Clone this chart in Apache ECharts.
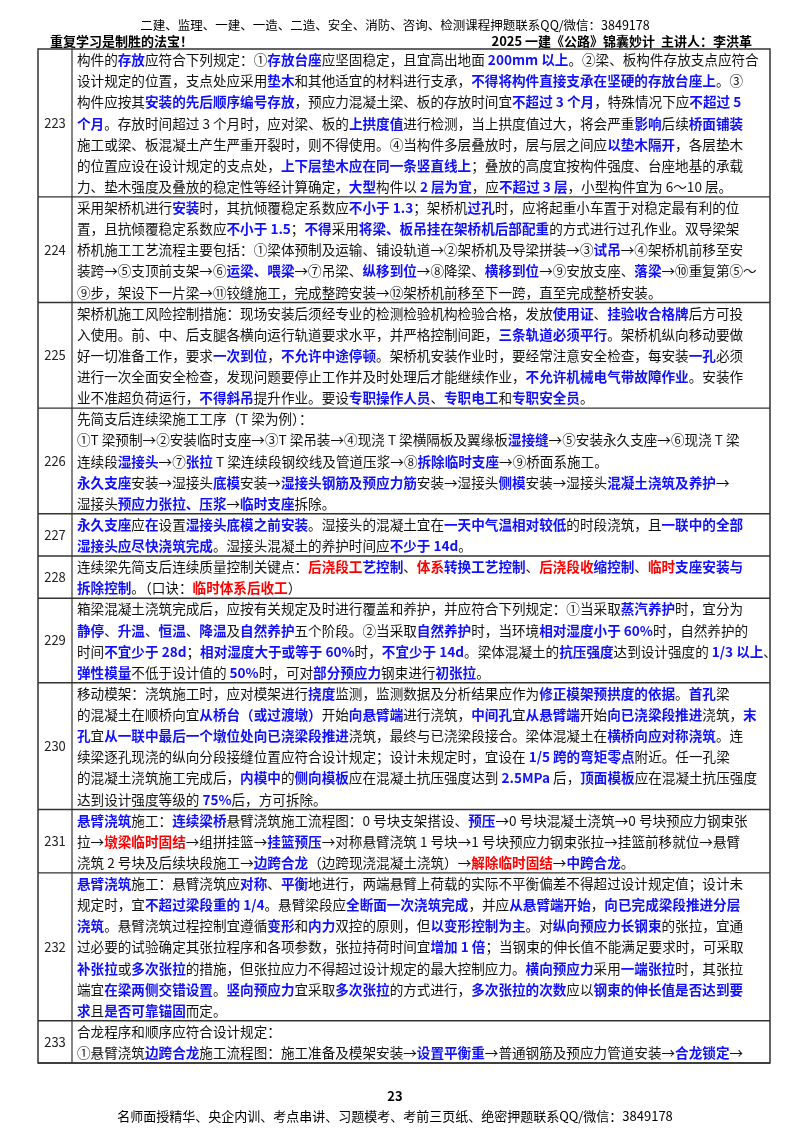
<!DOCTYPE html>
<html><head><meta charset="utf-8">
<script src="https://cdn.jsdelivr.net/npm/echarts@6/dist/echarts.min.js"></script>
<style>html,body{margin:0;padding:0;background:#fff}#c{width:800px;height:1132px}</style>
</head><body><div id="c"></div>
<script>
var headerTop = "二建、监理、一建、一造、二造、安全、消防、咨询、检测课程押题联系QQ/微信：3849178";
var headerLeft = "重复学习是制胜的法宝！";
var headerRight = "2025 一建《公路》锦囊妙计  主讲人：李洪革";
var pageNum = "23";
var footer = "名师面授精华、央企内训、考点串讲、习题模考、考前三页纸、绝密押题联系QQ/微信：3849178";
var rowNums = ["223","224","225","226","227","228","229","230","231","232","233"];
var rowLines = [
["构件的{b|存放}应符合下列规定：①{b|存放台座}应坚固稳定，且宜高出地面 {b|200mm 以上}。②梁、板构件存放支点应符合",
"设计规定的位置，支点处应采用{b|垫木}和其他适宜的材料进行支承，{b|不得将构件直接支承在坚硬的存放台座上}。③",
"构件应按其{b|安装的先后顺序编号存放}，预应力混凝土梁、板的存放时间宜{b|不超过 3 个月}，特殊情况下应{b|不超过 5}",
"{b|个月}。存放时间超过 3 个月时，应对梁、板的{b|上拱度值}进行检测，当上拱度值过大，将会严重{b|影响}后续{b|桥面铺装}",
"施工或梁、板混凝土产生严重开裂时，则不得使用。④当构件多层叠放时，层与层之间应{b|以垫木隔开}，各层垫木",
"的位置应设在设计规定的支点处，{b|上下层垫木应在同一条竖直线上}；叠放的高度宜按构件强度、台座地基的承载",
"力、垫木强度及叠放的稳定性等经计算确定，{b|大型}构件以 {b|2 层为宜}，应{b|不超过 3 层}，小型构件宜为 6～10 层。"],
["采用架桥机进行{b|安装}时，其抗倾覆稳定系数应{b|不小于 1.3}；架桥机{b|过孔}时，应将起重小车置于对稳定最有利的位",
"置，且抗倾覆稳定系数应{b|不小于 1.5}；{b|不得}采用{b|将梁、板吊挂在架桥机后部配重}的方式进行过孔作业。双导梁架",
"桥机施工工艺流程主要包括：①梁体预制及运输、铺设轨道→②架桥机及导梁拼装→③{b|试吊}→④架桥机前移至安",
"装跨→⑤支顶前支架→⑥{b|运梁、喂梁}→⑦吊梁、{b|纵移到位}→⑧降梁、{b|横移到位}→⑨安放支座、{b|落梁}→⑩重复第⑤～",
"⑨步，架设下一片梁→⑪铰缝施工，完成整跨安装→⑫架桥机前移至下一跨，直至完成整桥安装。"],
["架桥机施工风险控制措施：现场安装后须经专业的检测检验机构检验合格，发放{b|使用证}、{b|挂验收合格牌}后方可投",
"入使用。前、中、后支腿各横向运行轨道要求水平，并严格控制间距，{b|三条轨道必须平行}。架桥机纵向移动要做",
"好一切准备工作，要求{b|一次到位}，{b|不允许中途停顿}。架桥机安装作业时，要经常注意安全检查，每安装{b|一孔}必须",
"进行一次全面安全检查，发现问题要停止工作并及时处理后才能继续作业，{b|不允许机械电气带故障作业}。安装作",
"业不准超负荷运行，{b|不得斜吊}提升作业。要设{b|专职操作人员}、{b|专职电工}和{b|专职安全员}。"],
["先简支后连续梁施工工序（T 梁为例）：",
"①T 梁预制→②安装临时支座→③T 梁吊装→④现浇 T 梁横隔板及翼缘板{b|湿接缝}→⑤安装永久支座→⑥现浇 T 梁",
"连续段{b|湿接头}→⑦{b|张拉} T 梁连续段钢绞线及管道压浆→⑧{b|拆除临时支座}→⑨桥面系施工。",
"{b|永久支座}安装→湿接头{b|底模}安装→{b|湿接头钢筋及预应力筋}安装→湿接头{b|侧模}安装→湿接头{b|混凝土浇筑及养护}→",
"湿接头{b|预应力张拉、压浆}→{b|临时支座}拆除。"],
["{b|永久支座}应{b|在}设置{b|湿接头底模之前安装}。湿接头的混凝土宜在{b|一天中气温相对较低}的时段浇筑，且{b|一联中的全部}",
"{b|湿接头应尽快浇筑完成}。湿接头混凝土的养护时间应{b|不少于 14d}。"],
["连续梁先简支后连续质量控制关键点：{r|后浇段工}{b|艺控制}、{r|体系}{b|转换工艺控制}、{r|后浇段收}{b|缩控制}、{r|临时}{b|支座安装与}",
"{b|拆除控制}。（口诀：{r|临时体系后收工}）"],
["箱梁混凝土浇筑完成后，应按有关规定及时进行覆盖和养护，并应符合下列规定：①当采取{b|蒸汽养护}时，宜分为",
"{b|静停}、{b|升温}、{b|恒温}、{b|降温}及{b|自然养护}五个阶段。②当采取{b|自然养护}时，当环境{b|相对湿度小于 60%}时，自然养护的",
"时间{b|不宜少于 28d}；{b|相对湿度大于或等于 60%}时，{b|不宜少于 14d}。梁体混凝土的{b|抗压强度}达到设计强度的 {b|1/3 以上}、",
"{b|弹性模量}不低于设计值的 {b|50%}时，可对{b|部分预应力}钢束进行{b|初张拉}。"],
["移动模架：浇筑施工时，应对模架进行{b|挠度}监测，监测数据及分析结果应作为{b|修正模架预拱度的依据}。{b|首孔}梁",
"的混凝土在顺桥向宜{b|从桥台（或过渡墩）}开始{b|向悬臂端}进行浇筑，{b|中间孔}宜{b|从悬臂端}开始{b|向已浇梁段推进}浇筑，{b|末}",
"{b|孔}宜{b|从一联中最后一个墩位处向已浇梁段推进}浇筑，最终与已浇梁段接合。梁体混凝土在{b|横桥向应对称浇筑}。连",
"续梁逐孔现浇的纵向分段接缝位置应符合设计规定；设计未规定时，宜设在 {b|1/5 跨的弯矩零点}附近。任一孔梁",
"的混凝土浇筑施工完成后，{b|内模中}的{b|侧向模板}应在混凝土抗压强度达到 {b|2.5MPa} 后，{b|顶面模板}应在混凝土抗压强度",
"达到设计强度等级的 {b|75%}后，方可拆除。"],
["{b|悬臂浇筑}施工：{b|连续梁桥}悬臂浇筑施工流程图：0 号块支架搭设、{b|预压}→0 号块混凝土浇筑→0 号块预应力钢束张",
"拉→{r|墩梁临时固结}→组拼挂篮→{b|挂篮预压}→对称悬臂浇筑 1 号块→1 号块预应力钢束张拉→挂篮前移就位→悬臂",
"浇筑 2 号块及后续块段施工→{b|边跨合龙}（边跨现浇混凝土浇筑）→{r|解除临时固结}→{b|中跨合龙}。"],
["{b|悬臂浇筑}施工：悬臂浇筑应{b|对称}、{b|平衡}地进行，两端悬臂上荷载的实际不平衡偏差不得超过设计规定值；设计未",
"规定时，宜{b|不超过梁段重的 1/4}。悬臂梁段应{b|全断面一次浇筑完成}，并应{b|从悬臂端开始}，{b|向已完成梁段推进分层}",
"{b|浇筑}。悬臂浇筑过程控制宜遵循{b|变形}和{b|内力}双控的原则，但{b|以变形控制为主}。对{b|纵向预应力长钢束}的张拉，宜通",
"过必要的试验确定其张拉程序和各项参数，张拉持荷时间宜{b|增加 1 倍}；当钢束的伸长值不能满足要求时，可采取",
"{b|补张拉}或{b|多次张拉}的措施，但张拉应力不得超过设计规定的最大控制应力。{b|横向预应力}采用{b|一端张拉}时，其张拉",
"端宜{b|在梁两侧交错设置}。{b|竖向预应力}宜采取{b|多次张拉}的方式进行，{b|多次张拉的次数}应以{b|钢束的伸长值是否达到要}",
"{b|求}且{b|是否可靠锚固}而定。"],
["合龙程序和顺序应符合设计规定：",
"①悬臂浇筑{b|边跨合龙}施工流程图：施工准备及模架安装→{b|设置平衡重}→普通钢筋及预应力管道安装→{b|合龙锁定}→"]
];

var FF = '"Noto Sans CJK SC", sans-serif';
var FS = 13.6, LH = 21.125, TOP = 49, L = 38, R = 770, NC = 72, TX = 77;
var rich = {
  b: {fill: '#1010ff', fontWeight: 'bold', fontSize: FS, fontFamily: FF},
  r: {fill: '#ff0000', fontWeight: 'bold', fontSize: FS, fontFamily: FF}
};
var g = [];
g.push({type:'text', style:{text:headerTop, x:395, y:25, align:'center', verticalAlign:'middle', fontSize:12.5, fontFamily:FF, fill:'#000'}});
g.push({type:'text', style:{text:headerLeft, x:50, y:41, verticalAlign:'middle', fontSize:13, fontWeight:'bold', fontFamily:FF, fill:'#000'}});
g.push({type:'text', style:{text:headerRight, x:752, y:41, align:'right', verticalAlign:'middle', fontSize:13, fontWeight:'bold', fontFamily:FF, fill:'#000'}});
var y = TOP;
rowLines.forEach(function(lines, i){
  var h = lines.length * LH;
  g.push({type:'text', style:{text:rowNums[i], x:(L+NC)/2, y:y+h/2, align:'center', verticalAlign:'middle', fontSize:13, fontFamily:FF, fill:'#222'}});
  lines.forEach(function(t, j){
    g.push({type:'text', style:{text:t, x:TX, y:y+LH*j+LH/2+0.5, verticalAlign:'middle', fontSize:FS, fontFamily:FF, fill:'#111', rich:rich}});
  });
  y += h;
  g.push({type:'line', shape:{x1:L, y1:y, x2:R, y2:y}, style:{stroke:'#333', lineWidth:1.3}});
});
g.push({type:'rect', shape:{x:L, y:TOP, width:R-L, height:y-TOP}, style:{fill:null, stroke:'#333', lineWidth:1.5}});
g.push({type:'line', shape:{x1:NC, y1:TOP, x2:NC, y2:y}, style:{stroke:'#333', lineWidth:1.2}});
g.push({type:'text', style:{text:pageNum, x:395, y:1096, align:'center', verticalAlign:'middle', fontSize:13, fontWeight:'bold', fontFamily:FF, fill:'#000'}});
g.push({type:'text', style:{text:footer, x:395, y:1116, align:'center', verticalAlign:'middle', fontSize:13, fontFamily:FF, fill:'#000'}});

var chart = echarts.init(document.getElementById('c'), null, {renderer:'canvas'});
chart.setOption({animation:false, backgroundColor:'#fff', graphic:{elements:g}});
</script></body></html>
